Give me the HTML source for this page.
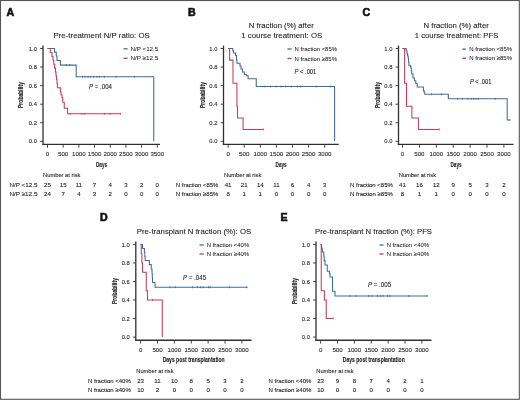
<!DOCTYPE html>
<html><head><meta charset="utf-8"><style>
html,body{margin:0;padding:0;background:#fff;}
body{width:520px;height:400px;overflow:hidden;}
svg{display:block;font-family:"Liberation Sans", sans-serif;filter:blur(0.3px);}
text{stroke:#1e1e1e;stroke-width:0.1px;}
text.al{stroke-width:0.12px;}
text.pl{stroke:#111;stroke-width:0.6px;}
text.lg{stroke-width:0.05px;}

</style></head><body>
<svg width="520" height="400" viewBox="0 0 520 400" fill="#1e1e1e">
<rect x="0" y="0" width="520" height="400" fill="#fff"/>
<text x="6.50" y="15.80" font-size="10.6" font-weight="bold" fill="#111" class="pl">A</text>
<text x="53.50" y="38.00" font-size="8.1" textLength="96.30" lengthAdjust="spacingAndGlyphs">Pre-treatment N/P ratio: OS</text>
<line x1="43.00" y1="45.60" x2="43.00" y2="145.00" stroke="#303030" stroke-width="1.3"/>
<line x1="42.35" y1="144.40" x2="160.00" y2="144.40" stroke="#303030" stroke-width="1.3"/>
<line x1="40.10" y1="141.30" x2="43.00" y2="141.30" stroke="#303030" stroke-width="0.9"/>
<text x="36.90" y="143.40" font-size="5.8" text-anchor="end" fill="#2a2a2a">0.0</text>
<line x1="40.10" y1="122.74" x2="43.00" y2="122.74" stroke="#303030" stroke-width="0.9"/>
<text x="36.90" y="124.84" font-size="5.8" text-anchor="end" fill="#2a2a2a">0.2</text>
<line x1="40.10" y1="104.18" x2="43.00" y2="104.18" stroke="#303030" stroke-width="0.9"/>
<text x="36.90" y="106.28" font-size="5.8" text-anchor="end" fill="#2a2a2a">0.4</text>
<line x1="40.10" y1="85.62" x2="43.00" y2="85.62" stroke="#303030" stroke-width="0.9"/>
<text x="36.90" y="87.72" font-size="5.8" text-anchor="end" fill="#2a2a2a">0.6</text>
<line x1="40.10" y1="67.06" x2="43.00" y2="67.06" stroke="#303030" stroke-width="0.9"/>
<text x="36.90" y="69.16" font-size="5.8" text-anchor="end" fill="#2a2a2a">0.8</text>
<line x1="40.10" y1="48.50" x2="43.00" y2="48.50" stroke="#303030" stroke-width="0.9"/>
<text x="36.90" y="50.60" font-size="5.8" text-anchor="end" fill="#2a2a2a">1.0</text>
<line x1="47.50" y1="144.40" x2="47.50" y2="147.70" stroke="#303030" stroke-width="0.9"/>
<text x="47.50" y="155.90" font-size="6.1" text-anchor="middle" fill="#2a2a2a">0</text>
<line x1="63.18" y1="144.40" x2="63.18" y2="147.70" stroke="#303030" stroke-width="0.9"/>
<text x="63.18" y="155.90" font-size="6.1" text-anchor="middle" fill="#2a2a2a">500</text>
<line x1="78.86" y1="144.40" x2="78.86" y2="147.70" stroke="#303030" stroke-width="0.9"/>
<text x="78.86" y="155.90" font-size="6.1" text-anchor="middle" fill="#2a2a2a">1000</text>
<line x1="94.54" y1="144.40" x2="94.54" y2="147.70" stroke="#303030" stroke-width="0.9"/>
<text x="94.54" y="155.90" font-size="6.1" text-anchor="middle" fill="#2a2a2a">1500</text>
<line x1="110.22" y1="144.40" x2="110.22" y2="147.70" stroke="#303030" stroke-width="0.9"/>
<text x="110.22" y="155.90" font-size="6.1" text-anchor="middle" fill="#2a2a2a">2000</text>
<line x1="125.90" y1="144.40" x2="125.90" y2="147.70" stroke="#303030" stroke-width="0.9"/>
<text x="125.90" y="155.90" font-size="6.1" text-anchor="middle" fill="#2a2a2a">2500</text>
<line x1="141.58" y1="144.40" x2="141.58" y2="147.70" stroke="#303030" stroke-width="0.9"/>
<text x="141.58" y="155.90" font-size="6.1" text-anchor="middle" fill="#2a2a2a">3000</text>
<line x1="157.26" y1="144.40" x2="157.26" y2="147.70" stroke="#303030" stroke-width="0.9"/>
<text x="157.26" y="155.90" font-size="6.1" text-anchor="middle" fill="#2a2a2a">3500</text>
<text transform="translate(23.20,95.00) rotate(-90)" font-size="6.3" font-weight="bold" class="al" text-anchor="middle" textLength="26" lengthAdjust="spacingAndGlyphs">Probability</text>
<text x="96.00" y="167.00" font-size="8.0" font-weight="bold" textLength="11.00" lengthAdjust="spacingAndGlyphs" class="al">Days</text>
<line x1="123.60" y1="48.80" x2="127.50" y2="48.80" stroke="#3f6c98" stroke-width="1.3"/>
<text x="130.50" y="50.80" font-size="6.0" textLength="27.80" lengthAdjust="spacingAndGlyphs" class="lg">N/P &lt;12.5</text>
<line x1="123.60" y1="58.30" x2="127.50" y2="58.30" stroke="#c43b5c" stroke-width="1.3"/>
<text x="130.50" y="60.30" font-size="6.0" textLength="27.80" lengthAdjust="spacingAndGlyphs" class="lg">N/P ≥12.5</text>
<text x="89.00" y="88.90" font-size="6.4" textLength="23.00" lengthAdjust="spacingAndGlyphs"><tspan font-style="italic">P</tspan> = .004</text>
<path d="M47.5,48.5 H54.5 V52.1 H56.25 V56 H57 V60.4 H60.4 V65.1 H76.2 V76.8 H153.75 V141.3" fill="none" stroke="#3f6c98" stroke-width="1.05"/>
<line x1="66.25" y1="64.15" x2="66.25" y2="66.05" stroke="#3f6c98" stroke-width="0.9"/>
<line x1="69.75" y1="64.15" x2="69.75" y2="66.05" stroke="#3f6c98" stroke-width="0.9"/>
<line x1="82.50" y1="75.85" x2="82.50" y2="77.75" stroke="#3f6c98" stroke-width="0.9"/>
<line x1="85.00" y1="75.85" x2="85.00" y2="77.75" stroke="#3f6c98" stroke-width="0.9"/>
<line x1="88.10" y1="75.85" x2="88.10" y2="77.75" stroke="#3f6c98" stroke-width="0.9"/>
<line x1="90.60" y1="75.85" x2="90.60" y2="77.75" stroke="#3f6c98" stroke-width="0.9"/>
<line x1="93.75" y1="75.85" x2="93.75" y2="77.75" stroke="#3f6c98" stroke-width="0.9"/>
<line x1="96.90" y1="75.85" x2="96.90" y2="77.75" stroke="#3f6c98" stroke-width="0.9"/>
<line x1="99.40" y1="75.85" x2="99.40" y2="77.75" stroke="#3f6c98" stroke-width="0.9"/>
<line x1="104.40" y1="75.85" x2="104.40" y2="77.75" stroke="#3f6c98" stroke-width="0.9"/>
<line x1="116.25" y1="75.85" x2="116.25" y2="77.75" stroke="#3f6c98" stroke-width="0.9"/>
<line x1="134.40" y1="75.85" x2="134.40" y2="77.75" stroke="#3f6c98" stroke-width="0.9"/>
<path d="M47.5,48.5 H50.25 V52.5 H52 V56.4 H53 V60.3 H53.8 V64.2 H54.6 V68.1 H55.5 V72 H56 V75.9 H56.5 V79.8 H57 V83.7 H57.4 V87.8 H60.4 V92 H61 V95 H62 V97.5 H62.75 V102.25 H64.25 V108.3 H67.6 V113.75 H120.8" fill="none" stroke="#c43b5c" stroke-width="1.05"/>
<line x1="70.00" y1="112.80" x2="70.00" y2="114.70" stroke="#c43b5c" stroke-width="0.9"/>
<line x1="81.90" y1="112.80" x2="81.90" y2="114.70" stroke="#c43b5c" stroke-width="0.9"/>
<line x1="85.00" y1="112.80" x2="85.00" y2="114.70" stroke="#c43b5c" stroke-width="0.9"/>
<line x1="104.40" y1="112.80" x2="104.40" y2="114.70" stroke="#c43b5c" stroke-width="0.9"/>
<line x1="110.00" y1="112.80" x2="110.00" y2="114.70" stroke="#c43b5c" stroke-width="0.9"/>
<line x1="120.60" y1="112.80" x2="120.60" y2="114.70" stroke="#c43b5c" stroke-width="0.9"/>
<text x="43.10" y="176.90" font-size="6.1" textLength="37.30" lengthAdjust="spacingAndGlyphs">Number at risk</text>
<text x="9.50" y="186.90" font-size="6.1" textLength="27.90" lengthAdjust="spacingAndGlyphs">N/P &lt;12.5</text>
<text x="47.50" y="186.90" font-size="6.1" text-anchor="middle">25</text>
<text x="63.18" y="186.90" font-size="6.1" text-anchor="middle">15</text>
<text x="78.86" y="186.90" font-size="6.1" text-anchor="middle">11</text>
<text x="94.54" y="186.90" font-size="6.1" text-anchor="middle">7</text>
<text x="110.22" y="186.90" font-size="6.1" text-anchor="middle">4</text>
<text x="125.90" y="186.90" font-size="6.1" text-anchor="middle">3</text>
<text x="141.58" y="186.90" font-size="6.1" text-anchor="middle">2</text>
<text x="157.26" y="186.90" font-size="6.1" text-anchor="middle">0</text>
<text x="9.50" y="196.15" font-size="6.1" textLength="27.90" lengthAdjust="spacingAndGlyphs">N/P ≥12.5</text>
<text x="47.50" y="196.15" font-size="6.1" text-anchor="middle">24</text>
<text x="63.18" y="196.15" font-size="6.1" text-anchor="middle">7</text>
<text x="78.86" y="196.15" font-size="6.1" text-anchor="middle">4</text>
<text x="94.54" y="196.15" font-size="6.1" text-anchor="middle">3</text>
<text x="110.22" y="196.15" font-size="6.1" text-anchor="middle">2</text>
<text x="125.90" y="196.15" font-size="6.1" text-anchor="middle">0</text>
<text x="141.58" y="196.15" font-size="6.1" text-anchor="middle">0</text>
<text x="157.26" y="196.15" font-size="6.1" text-anchor="middle">0</text>
<text x="187.90" y="15.80" font-size="10.6" font-weight="bold" fill="#111" class="pl">B</text>
<text x="248.80" y="28.40" font-size="8.1" textLength="65.00" lengthAdjust="spacingAndGlyphs">N fraction (%) after</text>
<text x="241.30" y="38.20" font-size="8.1" textLength="81.00" lengthAdjust="spacingAndGlyphs">1 course treatment: OS</text>
<line x1="223.50" y1="45.60" x2="223.50" y2="145.00" stroke="#303030" stroke-width="1.3"/>
<line x1="222.85" y1="144.40" x2="338.75" y2="144.40" stroke="#303030" stroke-width="1.3"/>
<line x1="220.60" y1="141.30" x2="223.50" y2="141.30" stroke="#303030" stroke-width="0.9"/>
<text x="217.40" y="143.40" font-size="5.8" text-anchor="end" fill="#2a2a2a">0.0</text>
<line x1="220.60" y1="122.74" x2="223.50" y2="122.74" stroke="#303030" stroke-width="0.9"/>
<text x="217.40" y="124.84" font-size="5.8" text-anchor="end" fill="#2a2a2a">0.2</text>
<line x1="220.60" y1="104.18" x2="223.50" y2="104.18" stroke="#303030" stroke-width="0.9"/>
<text x="217.40" y="106.28" font-size="5.8" text-anchor="end" fill="#2a2a2a">0.4</text>
<line x1="220.60" y1="85.62" x2="223.50" y2="85.62" stroke="#303030" stroke-width="0.9"/>
<text x="217.40" y="87.72" font-size="5.8" text-anchor="end" fill="#2a2a2a">0.6</text>
<line x1="220.60" y1="67.06" x2="223.50" y2="67.06" stroke="#303030" stroke-width="0.9"/>
<text x="217.40" y="69.16" font-size="5.8" text-anchor="end" fill="#2a2a2a">0.8</text>
<line x1="220.60" y1="48.50" x2="223.50" y2="48.50" stroke="#303030" stroke-width="0.9"/>
<text x="217.40" y="50.60" font-size="5.8" text-anchor="end" fill="#2a2a2a">1.0</text>
<line x1="228.10" y1="144.40" x2="228.10" y2="147.70" stroke="#303030" stroke-width="0.9"/>
<text x="228.10" y="155.90" font-size="6.1" text-anchor="middle" fill="#2a2a2a">0</text>
<line x1="244.20" y1="144.40" x2="244.20" y2="147.70" stroke="#303030" stroke-width="0.9"/>
<text x="244.20" y="155.90" font-size="6.1" text-anchor="middle" fill="#2a2a2a">500</text>
<line x1="260.30" y1="144.40" x2="260.30" y2="147.70" stroke="#303030" stroke-width="0.9"/>
<text x="260.30" y="155.90" font-size="6.1" text-anchor="middle" fill="#2a2a2a">1000</text>
<line x1="276.40" y1="144.40" x2="276.40" y2="147.70" stroke="#303030" stroke-width="0.9"/>
<text x="276.40" y="155.90" font-size="6.1" text-anchor="middle" fill="#2a2a2a">1500</text>
<line x1="292.50" y1="144.40" x2="292.50" y2="147.70" stroke="#303030" stroke-width="0.9"/>
<text x="292.50" y="155.90" font-size="6.1" text-anchor="middle" fill="#2a2a2a">2000</text>
<line x1="308.60" y1="144.40" x2="308.60" y2="147.70" stroke="#303030" stroke-width="0.9"/>
<text x="308.60" y="155.90" font-size="6.1" text-anchor="middle" fill="#2a2a2a">2500</text>
<line x1="324.70" y1="144.40" x2="324.70" y2="147.70" stroke="#303030" stroke-width="0.9"/>
<text x="324.70" y="155.90" font-size="6.1" text-anchor="middle" fill="#2a2a2a">3000</text>
<text transform="translate(204.80,95.00) rotate(-90)" font-size="6.3" font-weight="bold" class="al" text-anchor="middle" textLength="26" lengthAdjust="spacingAndGlyphs">Probability</text>
<text x="275.62" y="167.00" font-size="8.0" font-weight="bold" textLength="11.00" lengthAdjust="spacingAndGlyphs" class="al">Days</text>
<line x1="287.40" y1="49.00" x2="291.60" y2="49.00" stroke="#3f6c98" stroke-width="1.3"/>
<text x="294.60" y="51.00" font-size="6.0" textLength="42.40" lengthAdjust="spacingAndGlyphs" class="lg">N fraction &lt;85%</text>
<line x1="287.40" y1="58.50" x2="291.60" y2="58.50" stroke="#c43b5c" stroke-width="1.3"/>
<text x="294.60" y="60.50" font-size="6.0" textLength="42.40" lengthAdjust="spacingAndGlyphs" class="lg">N fraction ≥85%</text>
<text x="294.60" y="74.00" font-size="6.4" textLength="21.70" lengthAdjust="spacingAndGlyphs"><tspan font-style="italic">P</tspan> &lt; .001</text>
<path d="M228.1,48.5 H232.75 V50.8 H233.5 V53 H235.5 V55.5 H236.5 V60 H236.9 V63.2 H240 V66 H241 V69 H242.5 V71.9 H244.4 V74.4 H246.25 V75.8 H248.1 V78.75 H256.25 V86.5 H334.6 V141" fill="none" stroke="#3f6c98" stroke-width="1.05"/>
<line x1="265.00" y1="85.55" x2="265.00" y2="87.45" stroke="#3f6c98" stroke-width="0.9"/>
<line x1="270.60" y1="85.55" x2="270.60" y2="87.45" stroke="#3f6c98" stroke-width="0.9"/>
<line x1="276.25" y1="85.55" x2="276.25" y2="87.45" stroke="#3f6c98" stroke-width="0.9"/>
<line x1="281.00" y1="85.55" x2="281.00" y2="87.45" stroke="#3f6c98" stroke-width="0.9"/>
<line x1="285.60" y1="85.55" x2="285.60" y2="87.45" stroke="#3f6c98" stroke-width="0.9"/>
<line x1="291.25" y1="85.55" x2="291.25" y2="87.45" stroke="#3f6c98" stroke-width="0.9"/>
<line x1="297.40" y1="85.55" x2="297.40" y2="87.45" stroke="#3f6c98" stroke-width="0.9"/>
<line x1="300.80" y1="85.55" x2="300.80" y2="87.45" stroke="#3f6c98" stroke-width="0.9"/>
<line x1="316.20" y1="85.55" x2="316.20" y2="87.45" stroke="#3f6c98" stroke-width="0.9"/>
<line x1="330.60" y1="85.55" x2="330.60" y2="87.45" stroke="#3f6c98" stroke-width="0.9"/>
<path d="M228.1,48.5 H229.6 V60.1 H233 V83.2 H236.9 V106.3 H237.5 V117.9 H243.1 V129.4 H263.3" fill="none" stroke="#c43b5c" stroke-width="1.05"/>
<line x1="263.30" y1="128.45" x2="263.30" y2="130.35" stroke="#c43b5c" stroke-width="0.9"/>
<text x="224.00" y="176.90" font-size="6.1" textLength="37.30" lengthAdjust="spacingAndGlyphs">Number at risk</text>
<text x="175.80" y="186.90" font-size="6.1" textLength="42.50" lengthAdjust="spacingAndGlyphs">N fraction &lt;85%</text>
<text x="228.10" y="186.90" font-size="6.1" text-anchor="middle">41</text>
<text x="244.20" y="186.90" font-size="6.1" text-anchor="middle">21</text>
<text x="260.30" y="186.90" font-size="6.1" text-anchor="middle">14</text>
<text x="276.40" y="186.90" font-size="6.1" text-anchor="middle">11</text>
<text x="292.50" y="186.90" font-size="6.1" text-anchor="middle">6</text>
<text x="308.60" y="186.90" font-size="6.1" text-anchor="middle">4</text>
<text x="324.70" y="186.90" font-size="6.1" text-anchor="middle">3</text>
<text x="175.80" y="196.15" font-size="6.1" textLength="42.50" lengthAdjust="spacingAndGlyphs">N fraction ≥85%</text>
<text x="228.10" y="196.15" font-size="6.1" text-anchor="middle">8</text>
<text x="244.20" y="196.15" font-size="6.1" text-anchor="middle">1</text>
<text x="260.30" y="196.15" font-size="6.1" text-anchor="middle">1</text>
<text x="276.40" y="196.15" font-size="6.1" text-anchor="middle">0</text>
<text x="292.50" y="196.15" font-size="6.1" text-anchor="middle">0</text>
<text x="308.60" y="196.15" font-size="6.1" text-anchor="middle">0</text>
<text x="324.70" y="196.15" font-size="6.1" text-anchor="middle">0</text>
<text x="362.50" y="15.80" font-size="10.6" font-weight="bold" fill="#111" class="pl">C</text>
<text x="423.50" y="28.40" font-size="8.1" textLength="65.30" lengthAdjust="spacingAndGlyphs">N fraction (%) after</text>
<text x="414.80" y="38.30" font-size="8.1" textLength="83.50" lengthAdjust="spacingAndGlyphs">1 course treatment: PFS</text>
<line x1="398.50" y1="45.60" x2="398.50" y2="145.00" stroke="#303030" stroke-width="1.3"/>
<line x1="397.85" y1="144.40" x2="513.50" y2="144.40" stroke="#303030" stroke-width="1.3"/>
<line x1="395.60" y1="141.30" x2="398.50" y2="141.30" stroke="#303030" stroke-width="0.9"/>
<text x="392.40" y="143.40" font-size="5.8" text-anchor="end" fill="#2a2a2a">0.0</text>
<line x1="395.60" y1="122.74" x2="398.50" y2="122.74" stroke="#303030" stroke-width="0.9"/>
<text x="392.40" y="124.84" font-size="5.8" text-anchor="end" fill="#2a2a2a">0.2</text>
<line x1="395.60" y1="104.18" x2="398.50" y2="104.18" stroke="#303030" stroke-width="0.9"/>
<text x="392.40" y="106.28" font-size="5.8" text-anchor="end" fill="#2a2a2a">0.4</text>
<line x1="395.60" y1="85.62" x2="398.50" y2="85.62" stroke="#303030" stroke-width="0.9"/>
<text x="392.40" y="87.72" font-size="5.8" text-anchor="end" fill="#2a2a2a">0.6</text>
<line x1="395.60" y1="67.06" x2="398.50" y2="67.06" stroke="#303030" stroke-width="0.9"/>
<text x="392.40" y="69.16" font-size="5.8" text-anchor="end" fill="#2a2a2a">0.8</text>
<line x1="395.60" y1="48.50" x2="398.50" y2="48.50" stroke="#303030" stroke-width="0.9"/>
<text x="392.40" y="50.60" font-size="5.8" text-anchor="end" fill="#2a2a2a">1.0</text>
<line x1="402.50" y1="144.40" x2="402.50" y2="147.70" stroke="#303030" stroke-width="0.9"/>
<text x="402.50" y="155.90" font-size="6.1" text-anchor="middle" fill="#2a2a2a">0</text>
<line x1="419.40" y1="144.40" x2="419.40" y2="147.70" stroke="#303030" stroke-width="0.9"/>
<text x="419.40" y="155.90" font-size="6.1" text-anchor="middle" fill="#2a2a2a">500</text>
<line x1="436.30" y1="144.40" x2="436.30" y2="147.70" stroke="#303030" stroke-width="0.9"/>
<text x="436.30" y="155.90" font-size="6.1" text-anchor="middle" fill="#2a2a2a">1000</text>
<line x1="453.20" y1="144.40" x2="453.20" y2="147.70" stroke="#303030" stroke-width="0.9"/>
<text x="453.20" y="155.90" font-size="6.1" text-anchor="middle" fill="#2a2a2a">1500</text>
<line x1="470.10" y1="144.40" x2="470.10" y2="147.70" stroke="#303030" stroke-width="0.9"/>
<text x="470.10" y="155.90" font-size="6.1" text-anchor="middle" fill="#2a2a2a">2000</text>
<line x1="487.00" y1="144.40" x2="487.00" y2="147.70" stroke="#303030" stroke-width="0.9"/>
<text x="487.00" y="155.90" font-size="6.1" text-anchor="middle" fill="#2a2a2a">2500</text>
<line x1="503.90" y1="144.40" x2="503.90" y2="147.70" stroke="#303030" stroke-width="0.9"/>
<text x="503.90" y="155.90" font-size="6.1" text-anchor="middle" fill="#2a2a2a">3000</text>
<text transform="translate(379.80,95.00) rotate(-90)" font-size="6.3" font-weight="bold" class="al" text-anchor="middle" textLength="26" lengthAdjust="spacingAndGlyphs">Probability</text>
<text x="450.50" y="167.00" font-size="8.0" font-weight="bold" textLength="11.00" lengthAdjust="spacingAndGlyphs" class="al">Days</text>
<line x1="462.30" y1="49.10" x2="465.90" y2="49.10" stroke="#3f6c98" stroke-width="1.3"/>
<text x="469.20" y="51.10" font-size="6.0" textLength="42.90" lengthAdjust="spacingAndGlyphs" class="lg">N fraction &lt;85%</text>
<line x1="462.30" y1="58.20" x2="465.90" y2="58.20" stroke="#c43b5c" stroke-width="1.3"/>
<text x="469.20" y="60.20" font-size="6.0" textLength="42.90" lengthAdjust="spacingAndGlyphs" class="lg">N fraction ≥85%</text>
<text x="469.90" y="84.00" font-size="6.4" textLength="21.50" lengthAdjust="spacingAndGlyphs"><tspan font-style="italic">P</tspan> &lt; .001</text>
<path d="M402.5,48.5 H406.2 V50.8 H406.9 V53.25 H407.6 V56 H408.25 V58.75 H408.6 V62 H408.9 V65.2 H410.3 V66.5 H411 V68.4 H411.3 V71 H411.7 V73.9 H413 V78 H414.4 V80.75 H415.8 V83.5 H417.2 V87 H423.4 V90.4 H424 V92 H424.75 V94.2 H448.3 V98.8 H507.2 V120 H509.8" fill="none" stroke="#3f6c98" stroke-width="1.05"/>
<line x1="431.50" y1="93.25" x2="431.50" y2="95.15" stroke="#3f6c98" stroke-width="0.9"/>
<line x1="441.40" y1="93.25" x2="441.40" y2="95.15" stroke="#3f6c98" stroke-width="0.9"/>
<line x1="457.80" y1="97.85" x2="457.80" y2="99.75" stroke="#3f6c98" stroke-width="0.9"/>
<line x1="462.40" y1="97.85" x2="462.40" y2="99.75" stroke="#3f6c98" stroke-width="0.9"/>
<line x1="467.90" y1="97.85" x2="467.90" y2="99.75" stroke="#3f6c98" stroke-width="0.9"/>
<line x1="471.20" y1="97.85" x2="471.20" y2="99.75" stroke="#3f6c98" stroke-width="0.9"/>
<line x1="473.80" y1="97.85" x2="473.80" y2="99.75" stroke="#3f6c98" stroke-width="0.9"/>
<line x1="476.10" y1="97.85" x2="476.10" y2="99.75" stroke="#3f6c98" stroke-width="0.9"/>
<line x1="478.30" y1="97.85" x2="478.30" y2="99.75" stroke="#3f6c98" stroke-width="0.9"/>
<line x1="495.20" y1="97.85" x2="495.20" y2="99.75" stroke="#3f6c98" stroke-width="0.9"/>
<line x1="509.80" y1="119.05" x2="509.80" y2="120.95" stroke="#3f6c98" stroke-width="0.9"/>
<path d="M402.5,48.5 H404.6 V83.2 H406.5 V106.3 H411.9 V117.9 H418.4 V129.4 H439.2" fill="none" stroke="#c43b5c" stroke-width="1.05"/>
<line x1="439.20" y1="128.45" x2="439.20" y2="130.35" stroke="#c43b5c" stroke-width="0.9"/>
<text x="398.75" y="176.90" font-size="6.1" textLength="37.30" lengthAdjust="spacingAndGlyphs">Number at risk</text>
<text x="350.00" y="186.90" font-size="6.1" textLength="42.90" lengthAdjust="spacingAndGlyphs">N fraction &lt;85%</text>
<text x="402.50" y="186.90" font-size="6.1" text-anchor="middle">41</text>
<text x="419.40" y="186.90" font-size="6.1" text-anchor="middle">16</text>
<text x="436.30" y="186.90" font-size="6.1" text-anchor="middle">12</text>
<text x="453.20" y="186.90" font-size="6.1" text-anchor="middle">9</text>
<text x="470.10" y="186.90" font-size="6.1" text-anchor="middle">5</text>
<text x="487.00" y="186.90" font-size="6.1" text-anchor="middle">3</text>
<text x="503.90" y="186.90" font-size="6.1" text-anchor="middle">2</text>
<text x="350.00" y="196.15" font-size="6.1" textLength="42.90" lengthAdjust="spacingAndGlyphs">N fraction ≥85%</text>
<text x="402.50" y="196.15" font-size="6.1" text-anchor="middle">8</text>
<text x="419.40" y="196.15" font-size="6.1" text-anchor="middle">1</text>
<text x="436.30" y="196.15" font-size="6.1" text-anchor="middle">1</text>
<text x="453.20" y="196.15" font-size="6.1" text-anchor="middle">0</text>
<text x="470.10" y="196.15" font-size="6.1" text-anchor="middle">0</text>
<text x="487.00" y="196.15" font-size="6.1" text-anchor="middle">0</text>
<text x="503.90" y="196.15" font-size="6.1" text-anchor="middle">0</text>
<text x="100.00" y="221.10" font-size="10.6" font-weight="bold" fill="#111" class="pl">D</text>
<text x="136.70" y="234.00" font-size="8.1" textLength="114.50" lengthAdjust="spacingAndGlyphs">Pre-transplant N fraction (%): OS</text>
<line x1="135.80" y1="241.50" x2="135.80" y2="340.85" stroke="#303030" stroke-width="1.3"/>
<line x1="135.15" y1="340.25" x2="251.50" y2="340.25" stroke="#303030" stroke-width="1.3"/>
<line x1="132.90" y1="337.10" x2="135.80" y2="337.10" stroke="#303030" stroke-width="0.9"/>
<text x="129.70" y="339.20" font-size="5.8" text-anchor="end" fill="#2a2a2a">0.0</text>
<line x1="132.90" y1="318.56" x2="135.80" y2="318.56" stroke="#303030" stroke-width="0.9"/>
<text x="129.70" y="320.66" font-size="5.8" text-anchor="end" fill="#2a2a2a">0.2</text>
<line x1="132.90" y1="300.02" x2="135.80" y2="300.02" stroke="#303030" stroke-width="0.9"/>
<text x="129.70" y="302.12" font-size="5.8" text-anchor="end" fill="#2a2a2a">0.4</text>
<line x1="132.90" y1="281.48" x2="135.80" y2="281.48" stroke="#303030" stroke-width="0.9"/>
<text x="129.70" y="283.58" font-size="5.8" text-anchor="end" fill="#2a2a2a">0.6</text>
<line x1="132.90" y1="262.94" x2="135.80" y2="262.94" stroke="#303030" stroke-width="0.9"/>
<text x="129.70" y="265.04" font-size="5.8" text-anchor="end" fill="#2a2a2a">0.8</text>
<line x1="132.90" y1="244.40" x2="135.80" y2="244.40" stroke="#303030" stroke-width="0.9"/>
<text x="129.70" y="246.50" font-size="5.8" text-anchor="end" fill="#2a2a2a">1.0</text>
<line x1="140.60" y1="340.25" x2="140.60" y2="343.55" stroke="#303030" stroke-width="0.9"/>
<text x="140.60" y="351.75" font-size="6.1" text-anchor="middle" fill="#2a2a2a">0</text>
<line x1="157.48" y1="340.25" x2="157.48" y2="343.55" stroke="#303030" stroke-width="0.9"/>
<text x="157.48" y="351.75" font-size="6.1" text-anchor="middle" fill="#2a2a2a">500</text>
<line x1="174.36" y1="340.25" x2="174.36" y2="343.55" stroke="#303030" stroke-width="0.9"/>
<text x="174.36" y="351.75" font-size="6.1" text-anchor="middle" fill="#2a2a2a">1000</text>
<line x1="191.24" y1="340.25" x2="191.24" y2="343.55" stroke="#303030" stroke-width="0.9"/>
<text x="191.24" y="351.75" font-size="6.1" text-anchor="middle" fill="#2a2a2a">1500</text>
<line x1="208.12" y1="340.25" x2="208.12" y2="343.55" stroke="#303030" stroke-width="0.9"/>
<text x="208.12" y="351.75" font-size="6.1" text-anchor="middle" fill="#2a2a2a">2000</text>
<line x1="225.00" y1="340.25" x2="225.00" y2="343.55" stroke="#303030" stroke-width="0.9"/>
<text x="225.00" y="351.75" font-size="6.1" text-anchor="middle" fill="#2a2a2a">2500</text>
<line x1="241.88" y1="340.25" x2="241.88" y2="343.55" stroke="#303030" stroke-width="0.9"/>
<text x="241.88" y="351.75" font-size="6.1" text-anchor="middle" fill="#2a2a2a">3000</text>
<text transform="translate(117.30,291.00) rotate(-90)" font-size="6.3" font-weight="bold" class="al" text-anchor="middle" textLength="26" lengthAdjust="spacingAndGlyphs">Probability</text>
<text x="162.65" y="362.10" font-size="7.3" font-weight="bold" textLength="62.00" lengthAdjust="spacingAndGlyphs" class="al">Days post transplantation</text>
<line x1="199.50" y1="245.00" x2="203.70" y2="245.00" stroke="#3f6c98" stroke-width="1.3"/>
<text x="206.70" y="247.00" font-size="6.0" textLength="42.50" lengthAdjust="spacingAndGlyphs" class="lg">N fraction &lt;40%</text>
<line x1="199.50" y1="254.00" x2="203.70" y2="254.00" stroke="#c43b5c" stroke-width="1.3"/>
<text x="206.70" y="256.00" font-size="6.0" textLength="42.50" lengthAdjust="spacingAndGlyphs" class="lg">N fraction ≥40%</text>
<text x="182.90" y="279.75" font-size="6.4" textLength="23.20" lengthAdjust="spacingAndGlyphs"><tspan font-style="italic">P</tspan> = .045</text>
<path d="M140.6,244.4 H142.5 V248.4 H144.4 V252.4 H144.8 V256.4 H145.2 V260.4 H149.4 V264.6 H151.25 V268.9 H152 V273.2 H152.3 V277.5 H152.5 V282.5 H155 V287.25 H247.25" fill="none" stroke="#3f6c98" stroke-width="1.05"/>
<line x1="170.00" y1="286.30" x2="170.00" y2="288.20" stroke="#3f6c98" stroke-width="0.9"/>
<line x1="175.25" y1="286.30" x2="175.25" y2="288.20" stroke="#3f6c98" stroke-width="0.9"/>
<line x1="192.50" y1="286.30" x2="192.50" y2="288.20" stroke="#3f6c98" stroke-width="0.9"/>
<line x1="197.50" y1="286.30" x2="197.50" y2="288.20" stroke="#3f6c98" stroke-width="0.9"/>
<line x1="200.60" y1="286.30" x2="200.60" y2="288.20" stroke="#3f6c98" stroke-width="0.9"/>
<line x1="203.10" y1="286.30" x2="203.10" y2="288.20" stroke="#3f6c98" stroke-width="0.9"/>
<line x1="208.50" y1="286.30" x2="208.50" y2="288.20" stroke="#3f6c98" stroke-width="0.9"/>
<line x1="210.25" y1="286.30" x2="210.25" y2="288.20" stroke="#3f6c98" stroke-width="0.9"/>
<line x1="229.40" y1="286.30" x2="229.40" y2="288.20" stroke="#3f6c98" stroke-width="0.9"/>
<line x1="246.90" y1="286.30" x2="246.90" y2="288.20" stroke="#3f6c98" stroke-width="0.9"/>
<path d="M140.6,244.4 H141.25 V253.65 H141.9 V262.9 H142.5 V272.15 H146.25 V290.65 H147.5 V299.9 H162.25 V336.9" fill="none" stroke="#c43b5c" stroke-width="1.05"/>
<line x1="152.50" y1="298.95" x2="152.50" y2="300.85" stroke="#c43b5c" stroke-width="0.9"/>
<text x="136.25" y="372.75" font-size="6.1" textLength="37.30" lengthAdjust="spacingAndGlyphs">Number at risk</text>
<text x="87.90" y="382.75" font-size="6.1" textLength="42.90" lengthAdjust="spacingAndGlyphs">N fraction &lt;40%</text>
<text x="140.60" y="382.75" font-size="6.1" text-anchor="middle">23</text>
<text x="157.48" y="382.75" font-size="6.1" text-anchor="middle">11</text>
<text x="174.36" y="382.75" font-size="6.1" text-anchor="middle">10</text>
<text x="191.24" y="382.75" font-size="6.1" text-anchor="middle">8</text>
<text x="208.12" y="382.75" font-size="6.1" text-anchor="middle">5</text>
<text x="225.00" y="382.75" font-size="6.1" text-anchor="middle">3</text>
<text x="241.88" y="382.75" font-size="6.1" text-anchor="middle">2</text>
<text x="87.90" y="392.00" font-size="6.1" textLength="42.90" lengthAdjust="spacingAndGlyphs">N fraction ≥40%</text>
<text x="140.60" y="392.00" font-size="6.1" text-anchor="middle">10</text>
<text x="157.48" y="392.00" font-size="6.1" text-anchor="middle">2</text>
<text x="174.36" y="392.00" font-size="6.1" text-anchor="middle">0</text>
<text x="191.24" y="392.00" font-size="6.1" text-anchor="middle">0</text>
<text x="208.12" y="392.00" font-size="6.1" text-anchor="middle">0</text>
<text x="225.00" y="392.00" font-size="6.1" text-anchor="middle">0</text>
<text x="241.88" y="392.00" font-size="6.1" text-anchor="middle">0</text>
<text x="280.60" y="221.10" font-size="10.6" font-weight="bold" fill="#111" class="pl">E</text>
<text x="315.00" y="234.00" font-size="8.1" textLength="117.00" lengthAdjust="spacingAndGlyphs">Pre-transplant N fraction (%): PFS</text>
<line x1="316.00" y1="241.50" x2="316.00" y2="340.85" stroke="#303030" stroke-width="1.3"/>
<line x1="315.35" y1="340.25" x2="431.50" y2="340.25" stroke="#303030" stroke-width="1.3"/>
<line x1="313.10" y1="337.10" x2="316.00" y2="337.10" stroke="#303030" stroke-width="0.9"/>
<text x="309.90" y="339.20" font-size="5.8" text-anchor="end" fill="#2a2a2a">0.0</text>
<line x1="313.10" y1="318.56" x2="316.00" y2="318.56" stroke="#303030" stroke-width="0.9"/>
<text x="309.90" y="320.66" font-size="5.8" text-anchor="end" fill="#2a2a2a">0.2</text>
<line x1="313.10" y1="300.02" x2="316.00" y2="300.02" stroke="#303030" stroke-width="0.9"/>
<text x="309.90" y="302.12" font-size="5.8" text-anchor="end" fill="#2a2a2a">0.4</text>
<line x1="313.10" y1="281.48" x2="316.00" y2="281.48" stroke="#303030" stroke-width="0.9"/>
<text x="309.90" y="283.58" font-size="5.8" text-anchor="end" fill="#2a2a2a">0.6</text>
<line x1="313.10" y1="262.94" x2="316.00" y2="262.94" stroke="#303030" stroke-width="0.9"/>
<text x="309.90" y="265.04" font-size="5.8" text-anchor="end" fill="#2a2a2a">0.8</text>
<line x1="313.10" y1="244.40" x2="316.00" y2="244.40" stroke="#303030" stroke-width="0.9"/>
<text x="309.90" y="246.50" font-size="5.8" text-anchor="end" fill="#2a2a2a">1.0</text>
<line x1="320.60" y1="340.25" x2="320.60" y2="343.55" stroke="#303030" stroke-width="0.9"/>
<text x="320.60" y="351.75" font-size="6.1" text-anchor="middle" fill="#2a2a2a">0</text>
<line x1="337.48" y1="340.25" x2="337.48" y2="343.55" stroke="#303030" stroke-width="0.9"/>
<text x="337.48" y="351.75" font-size="6.1" text-anchor="middle" fill="#2a2a2a">500</text>
<line x1="354.36" y1="340.25" x2="354.36" y2="343.55" stroke="#303030" stroke-width="0.9"/>
<text x="354.36" y="351.75" font-size="6.1" text-anchor="middle" fill="#2a2a2a">1000</text>
<line x1="371.24" y1="340.25" x2="371.24" y2="343.55" stroke="#303030" stroke-width="0.9"/>
<text x="371.24" y="351.75" font-size="6.1" text-anchor="middle" fill="#2a2a2a">1500</text>
<line x1="388.12" y1="340.25" x2="388.12" y2="343.55" stroke="#303030" stroke-width="0.9"/>
<text x="388.12" y="351.75" font-size="6.1" text-anchor="middle" fill="#2a2a2a">2000</text>
<line x1="405.00" y1="340.25" x2="405.00" y2="343.55" stroke="#303030" stroke-width="0.9"/>
<text x="405.00" y="351.75" font-size="6.1" text-anchor="middle" fill="#2a2a2a">2500</text>
<line x1="421.88" y1="340.25" x2="421.88" y2="343.55" stroke="#303030" stroke-width="0.9"/>
<text x="421.88" y="351.75" font-size="6.1" text-anchor="middle" fill="#2a2a2a">3000</text>
<text transform="translate(297.30,291.00) rotate(-90)" font-size="6.3" font-weight="bold" class="al" text-anchor="middle" textLength="26" lengthAdjust="spacingAndGlyphs">Probability</text>
<text x="342.75" y="362.10" font-size="7.3" font-weight="bold" textLength="62.00" lengthAdjust="spacingAndGlyphs" class="al">Days post transplantation</text>
<line x1="379.50" y1="245.00" x2="383.50" y2="245.00" stroke="#3f6c98" stroke-width="1.3"/>
<text x="386.70" y="247.00" font-size="6.0" textLength="42.30" lengthAdjust="spacingAndGlyphs" class="lg">N fraction &lt;40%</text>
<line x1="379.50" y1="254.00" x2="383.50" y2="254.00" stroke="#c43b5c" stroke-width="1.3"/>
<text x="386.70" y="256.00" font-size="6.0" textLength="42.30" lengthAdjust="spacingAndGlyphs" class="lg">N fraction ≥40%</text>
<text x="367.90" y="287.25" font-size="6.4" textLength="23.20" lengthAdjust="spacingAndGlyphs"><tspan font-style="italic">P</tspan> = .005</text>
<path d="M320.6,244.4 H321.5 V248.1 H322.25 V251.9 H323.75 V256 H324.2 V260.6 H325 V265 H327.25 V271.25 H329.4 V273.5 H330 V277 H332.5 V291.25 H335 V295.9 H427.3" fill="none" stroke="#3f6c98" stroke-width="1.05"/>
<line x1="350.00" y1="294.95" x2="350.00" y2="296.85" stroke="#3f6c98" stroke-width="0.9"/>
<line x1="356.25" y1="294.95" x2="356.25" y2="296.85" stroke="#3f6c98" stroke-width="0.9"/>
<line x1="368.75" y1="294.95" x2="368.75" y2="296.85" stroke="#3f6c98" stroke-width="0.9"/>
<line x1="371.90" y1="294.95" x2="371.90" y2="296.85" stroke="#3f6c98" stroke-width="0.9"/>
<line x1="377.25" y1="294.95" x2="377.25" y2="296.85" stroke="#3f6c98" stroke-width="0.9"/>
<line x1="380.60" y1="294.95" x2="380.60" y2="296.85" stroke="#3f6c98" stroke-width="0.9"/>
<line x1="383.10" y1="294.95" x2="383.10" y2="296.85" stroke="#3f6c98" stroke-width="0.9"/>
<line x1="387.50" y1="294.95" x2="387.50" y2="296.85" stroke="#3f6c98" stroke-width="0.9"/>
<line x1="390.00" y1="294.95" x2="390.00" y2="296.85" stroke="#3f6c98" stroke-width="0.9"/>
<line x1="408.75" y1="294.95" x2="408.75" y2="296.85" stroke="#3f6c98" stroke-width="0.9"/>
<line x1="427.10" y1="294.95" x2="427.10" y2="296.85" stroke="#3f6c98" stroke-width="0.9"/>
<path d="M320.6,244.4 H321.25 V290.65 H324.4 V299.9 H326.25 V318.4 H333.1" fill="none" stroke="#c43b5c" stroke-width="1.05"/>
<line x1="333.10" y1="317.45" x2="333.10" y2="319.35" stroke="#c43b5c" stroke-width="0.9"/>
<text x="316.25" y="372.75" font-size="6.1" textLength="37.30" lengthAdjust="spacingAndGlyphs">Number at risk</text>
<text x="268.50" y="382.75" font-size="6.1" textLength="42.90" lengthAdjust="spacingAndGlyphs">N fraction &lt;40%</text>
<text x="320.60" y="382.75" font-size="6.1" text-anchor="middle">23</text>
<text x="337.48" y="382.75" font-size="6.1" text-anchor="middle">9</text>
<text x="354.36" y="382.75" font-size="6.1" text-anchor="middle">8</text>
<text x="371.24" y="382.75" font-size="6.1" text-anchor="middle">7</text>
<text x="388.12" y="382.75" font-size="6.1" text-anchor="middle">4</text>
<text x="405.00" y="382.75" font-size="6.1" text-anchor="middle">2</text>
<text x="421.88" y="382.75" font-size="6.1" text-anchor="middle">1</text>
<text x="268.50" y="392.00" font-size="6.1" textLength="42.90" lengthAdjust="spacingAndGlyphs">N fraction ≥40%</text>
<text x="320.60" y="392.00" font-size="6.1" text-anchor="middle">10</text>
<text x="337.48" y="392.00" font-size="6.1" text-anchor="middle">0</text>
<text x="354.36" y="392.00" font-size="6.1" text-anchor="middle">0</text>
<text x="371.24" y="392.00" font-size="6.1" text-anchor="middle">0</text>
<text x="388.12" y="392.00" font-size="6.1" text-anchor="middle">0</text>
<text x="405.00" y="392.00" font-size="6.1" text-anchor="middle">0</text>
<text x="421.88" y="392.00" font-size="6.1" text-anchor="middle">0</text>
<rect x="0.5" y="0.5" width="518.8" height="398.8" fill="none" stroke="#555" stroke-width="1.1"/>
</svg>
</body></html>
